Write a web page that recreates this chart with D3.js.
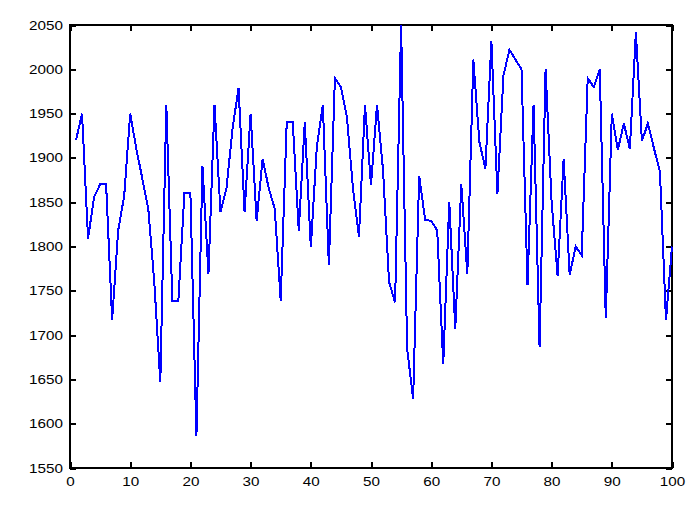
<!DOCTYPE html>
<html>
<head>
<meta charset="utf-8">
<script src="https://cdn.jsdelivr.net/npm/d3@7"></script>
<style>
  html, body { margin: 0; padding: 0; background: #fff; }
  svg { display: block; }
</style>
</head>
<body>
<svg id="chart" width="688" height="516"></svg>
<script>
// Data: index 1..100
const xValues = d3.range(1, 101);
const yValues = [
  1920, 1950, 1809, 1856, 1870, 1870, 1717, 1818, 1857, 1950,
  1911, 1877, 1843, 1760, 1647, 1960, 1739, 1739, 1860, 1860,
  1586, 1891, 1769, 1960, 1839, 1866, 1933, 1979, 1839, 1950,
  1829, 1899, 1866, 1843, 1739, 1940, 1940, 1818, 1940, 1799,
  1912, 1960, 1779, 1990, 1980, 1946, 1866, 1811, 1960, 1869,
  1960, 1886, 1760, 1737, 2050, 1685, 1628, 1880, 1830, 1829,
  1818, 1667, 1850, 1707, 1870, 1769, 2011, 1918, 1888, 2032,
  1859, 1993, 2022, 2011, 2000, 1757, 1960, 1687, 2000, 1850,
  1767, 1899, 1768, 1800, 1790, 1990, 1980, 2000, 1719, 1950,
  1909, 1939, 1910, 2042, 1919, 1939, 1911, 1884, 1717, 1800
];
const xTicks = [0, 10, 20, 30, 40, 50, 60, 70, 80, 90, 100];
const yTicks = [1550, 1600, 1650, 1700, 1750, 1800, 1850, 1900, 1950, 2000, 2050];

const mLeft = 70, mRight = 672, mTop = 25, mBottom = 468;
const svg = d3.select("#chart");

const x = d3.scaleLinear().domain([0, 100]).range([mLeft, mRight]);
const y = d3.scaleLinear().domain([1550, 2050]).range([mBottom, mTop]);

const tickLen = 6;
const font = "'Liberation Sans', Arial, sans-serif";
const fontSize = 12.5;
const stretch = 1.22;

function styleAxis(g, showLabels) {
  g.select(".domain").remove();
  g.selectAll(".tick line").attr("stroke", "#000").attr("stroke-width", 2).attr("shape-rendering", "crispEdges");
  if (!showLabels) g.selectAll(".tick text").remove();
  else g.selectAll(".tick text").attr("fill", "#000").attr("font-family", font).attr("font-size", fontSize);
}

// bottom axis
svg.append("g").attr("transform", `translate(0,${mBottom})`)
  .call(d3.axisBottom(x).tickValues(xTicks).tickSizeInner(-tickLen).tickSizeOuter(0).tickPadding(9).tickFormat(d3.format("d")))
  .call(g => styleAxis(g, true))
  .call(g => g.selectAll(".tick text").attr("transform", `scale(${stretch},1)`));
// top axis
svg.append("g").attr("transform", `translate(0,${mTop})`)
  .call(d3.axisTop(x).tickValues(xTicks).tickSizeInner(-tickLen).tickSizeOuter(0))
  .call(g => styleAxis(g, false));
// left axis
svg.append("g").attr("transform", `translate(${mLeft},0)`)
  .call(d3.axisLeft(y).tickValues(yTicks).tickSizeInner(-tickLen).tickSizeOuter(0).tickPadding(8).tickFormat(d3.format("d")))
  .call(g => styleAxis(g, true))
  .call(g => g.selectAll(".tick text").attr("x", 0).attr("transform", `translate(-7,0) scale(${stretch},1)`));
// right axis
svg.append("g").attr("transform", `translate(${mRight},0)`)
  .call(d3.axisRight(y).tickValues(yTicks).tickSizeInner(-tickLen).tickSizeOuter(0))
  .call(g => styleAxis(g, false));

// frame
svg.append("rect")
  .attr("x", mLeft).attr("y", mTop)
  .attr("width", mRight - mLeft).attr("height", mBottom - mTop)
  .attr("fill", "none").attr("stroke", "#000").attr("stroke-width", 2)
  .attr("shape-rendering", "crispEdges");

// line
const line = d3.line().x((d, i) => x(xValues[i])).y(d => y(d));
svg.append("path")
  .datum(yValues)
  .attr("d", line)
  .attr("fill", "none")
  .attr("stroke", "#0000ff")
  .attr("stroke-width", 2)
  .attr("stroke-linejoin", "miter")
  .attr("shape-rendering", "crispEdges");
</script>
</body>
</html>
